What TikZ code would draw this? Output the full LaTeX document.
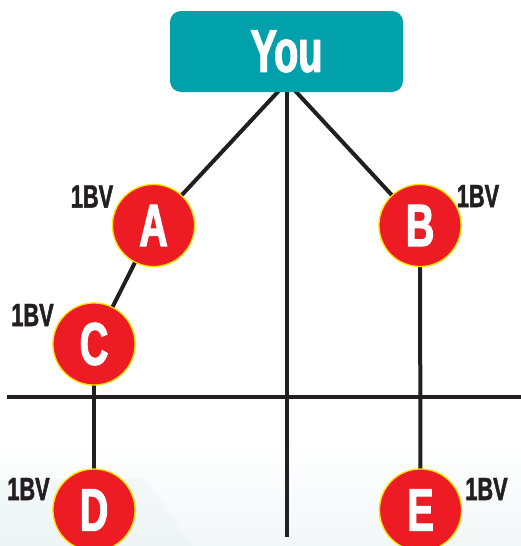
\documentclass[tikz,border=0pt]{standalone}
\usepackage{fontspec}
\newfontfamily\condfont[FakeStretch=0.66,FakeBold=2]{Liberation Sans Bold}
\newfontfamily\condfontb[FakeStretch=0.68,FakeBold=1.5]{Liberation Sans Bold}
\definecolor{teal1}{HTML}{01A1AC}
\definecolor{red1}{HTML}{ED1C24}
\definecolor{ring}{HTML}{FFE400}
\definecolor{ink}{HTML}{231F20}
\definecolor{tint}{HTML}{F2F7F8}
\definecolor{tint2}{HTML}{EDF4F5}
\begin{document}
\begin{tikzpicture}[x=1pt,y=-1pt,
  member/.style={circle,fill=red1,draw=ring,line width=1.2pt,minimum size=82pt,inner sep=0pt,
    text=white,font=\condfont\fontsize{60}{60}\selectfont},
  bv/.style={text=ink,font=\condfontb\fontsize{32}{32}\selectfont,inner sep=0pt},
  link/.style={draw=ink,line width=4pt},
  youbox/.style={fill=teal1,rounded corners=11pt,minimum width=233pt,minimum height=81pt,inner sep=0pt,
    text=white,font=\condfont\fontsize{60}{60}\selectfont}]
\useasboundingbox (0,0) rectangle (521,546);
% faint background tint at the bottom
\shade[top color=white,bottom color=tint] (0,440) rectangle (521,546);
\fill[tint2,opacity=0.5] (0,480) -- (145,478) -- (192,546) -- (0,546) -- cycle;
% hub and line ends
\coordinate (hub) at (287,82);
\coordinate (bot) at (287,537);
\coordinate (hl) at (7,396.5);
\coordinate (hr) at (521,396.5);
\node[member] (A) at (153.5,225.5) {A};
\node[member] (B) at (420,225.5) {B};
\node[member] (C) at (94,344) {C};
\node[member] (D) at (94,510) {D};
\node[member] (E) at (420.5,510) {E};
\draw[link] (hl) -- (hr);
\draw[link] (hub) -- (bot);
\draw[link] (hub) -- (A.center);
\draw[link] (hub) -- (B.center);
\draw[link] (A.center) -- (C.center);
\draw[link] (C.center) -- (D.center);
\draw[link] (B.center) -- (E.center);
% circles on top of the lines
\node[member] at (A) {A};
\node[member] at (B) {B};
\node[member] at (C) {C};
\node[member] at (D) {D};
\node[member] at (E) {E};
\node[youbox] (you) at (286.5,51.5) {You};
% labels
\node[bv] (la) at (92,196.5) {1BV};
\node[bv] (lb) at (478,196) {1BV};
\node[bv] (lc) at (32.5,315) {1BV};
\node[bv] (ld) at (28.5,489) {1BV};
\node[bv] (le) at (486.5,489) {1BV};
\end{tikzpicture}
\end{document}
